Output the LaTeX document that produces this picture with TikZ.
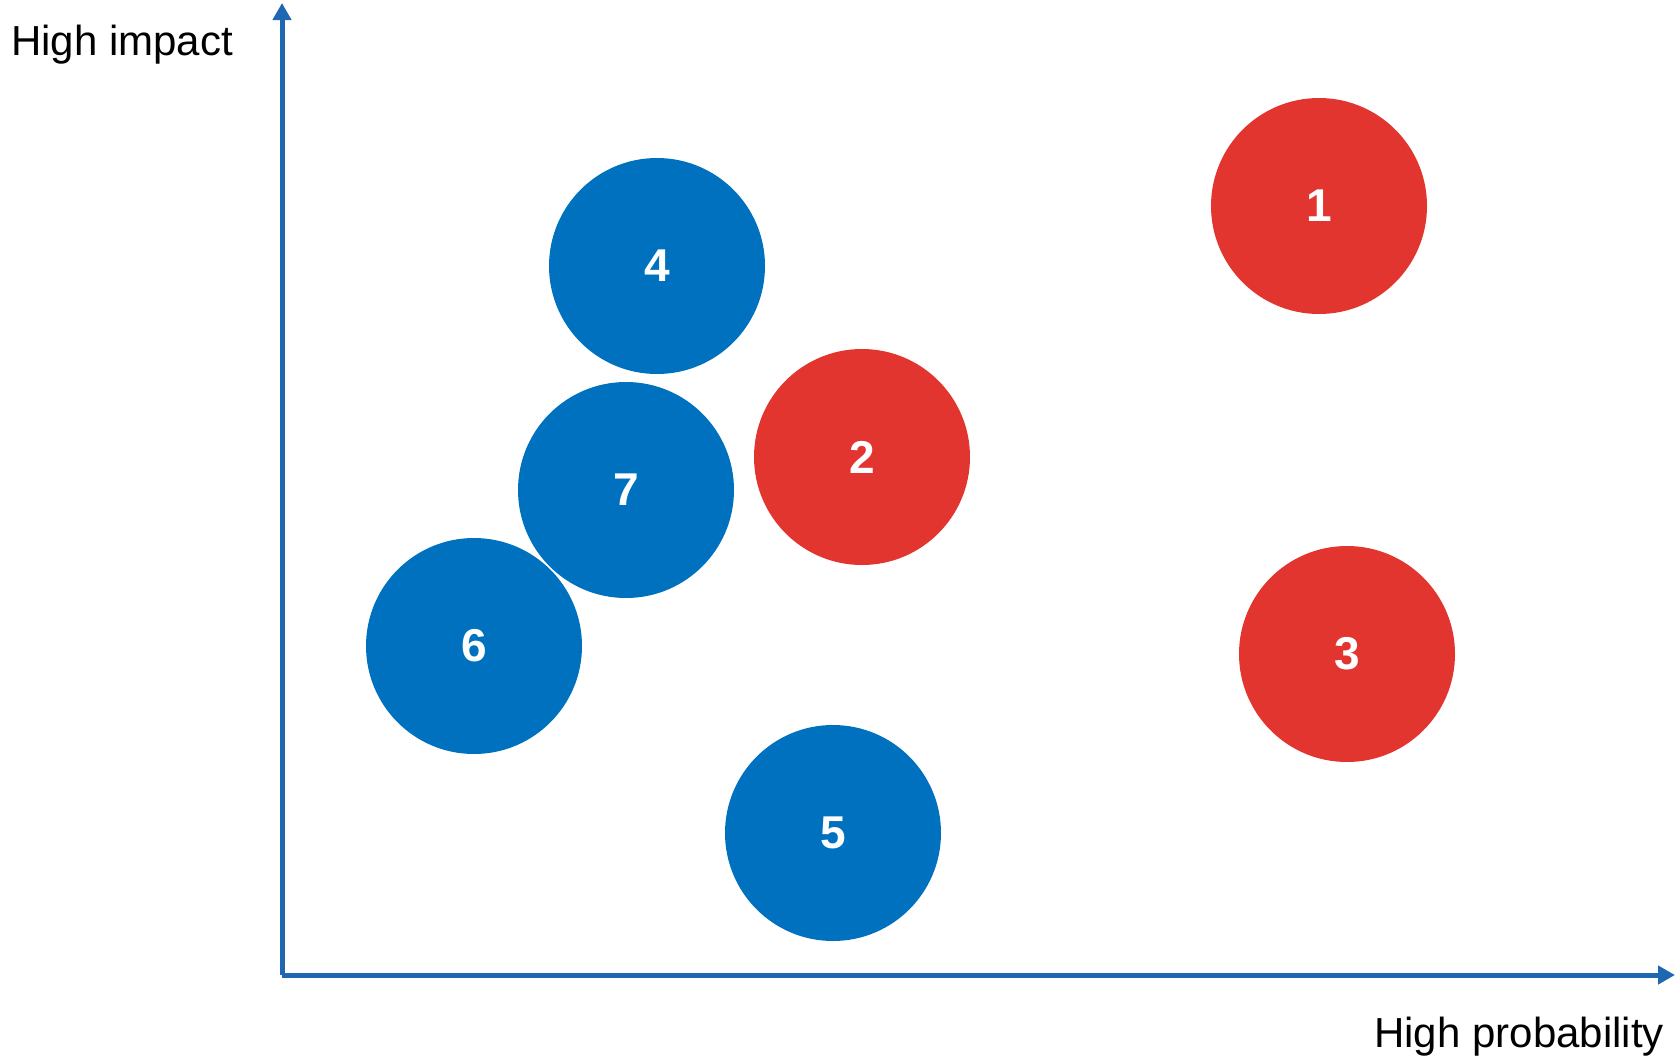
\documentclass[tikz,border=0pt]{standalone}
\usepackage{fontspec}
\setmainfont{Liberation Sans}
\usetikzlibrary{arrows.meta}
\definecolor{riskred}{HTML}{E33530}
\definecolor{riskblue}{HTML}{0071BF}
\definecolor{axisblue}{HTML}{1F67B1}
\begin{document}
\begin{tikzpicture}[
            x=1pt,
            y=-1pt,
            risk/.style={
                circle,
                minimum size=216pt,
                inner sep=0pt,
                text=white,
                font=\fontsize{46}{50}\selectfont\bfseries
            },
            high/.style={risk, fill=riskred},
            low/.style={risk, fill=riskblue},
            axis/.style={
                draw=axisblue,
                line width=5pt,
                -{Triangle[length=17pt,width=18pt]}
            },
            axislabel/.style={
                inner sep=0pt,
                font=\fontsize{42}{50}\selectfont
            }
        ]
        \useasboundingbox (0,0) rectangle (1676,1058);

        % Ejes
        \coordinate (o)    at (282,975);
        \coordinate (ytop) at (282,3);
        \coordinate (xend) at (1675,975);
        \draw[axis] (o) -- (ytop);
        \draw[axis] (o) -- (xend);

        \node[axislabel, anchor=base west] (impact) at (11,55) {High impact};
        \node[axislabel, anchor=base east] (prob) at (1664,1047) {High probability};

        % Riesgos
        \node[high] (r1) at (1319,206) {1};
        \node[high] (r2) at (862,457)  {2};
        \node[high] (r3) at (1347,654) {3};
        \node[low]  (r4) at (657,266)  {4};
        \node[low]  (r5) at (833,833)  {5};
        \node[low]  (r6) at (474,646)  {6};
        \node[low]  (r7) at (626,490)  {7};

        \end{tikzpicture}
\end{document}
